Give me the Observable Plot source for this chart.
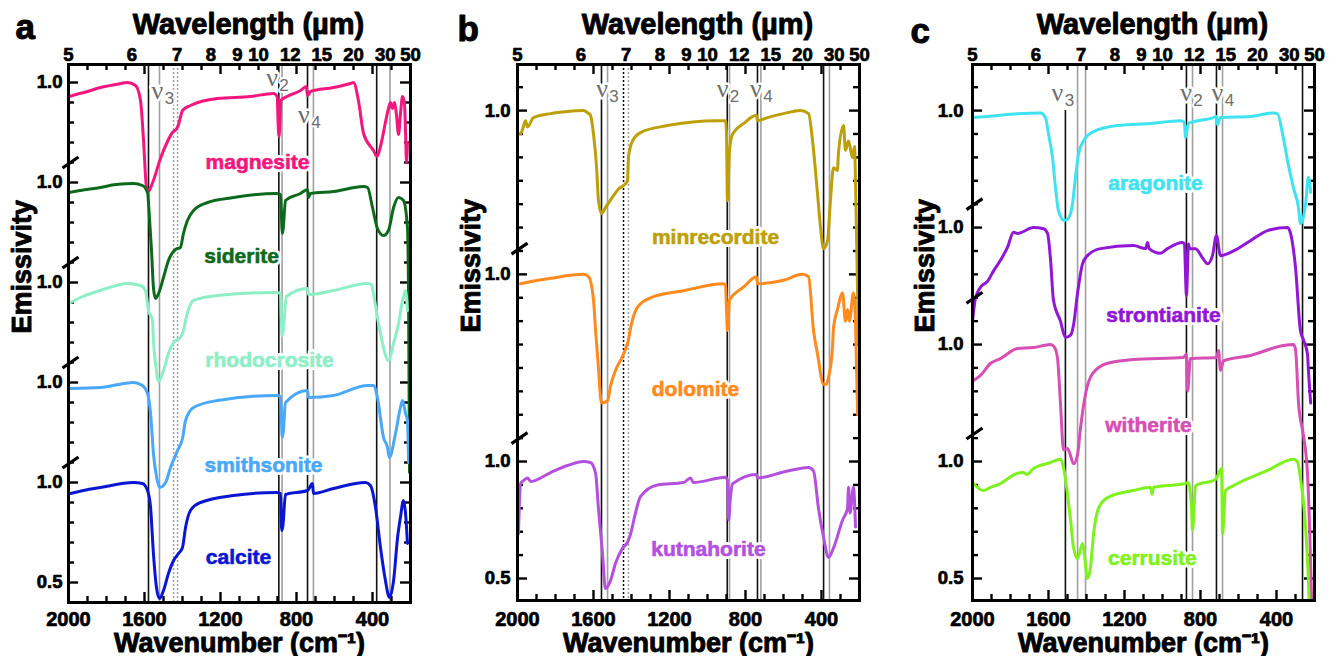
<!DOCTYPE html>
<html><head><meta charset="utf-8">
<script src="https://cdn.jsdelivr.net/npm/d3@7"></script>
<script src="https://cdn.jsdelivr.net/npm/@observablehq/plot@0.6"></script>
<style>
html,body{margin:0;padding:0;background:#fff;}
#row{display:flex;flex-direction:row;width:1337px;height:656px;overflow:hidden;}
#row svg{display:block;flex:none;}
</style>
</head><body><div id="row"></div>
<script>
// ---------- axis tick values ----------
const wnLabels = [2000, 1600, 1200, 800, 400];
const wnMajor = [1600, 1200, 800, 400];
const wnMinor = [1900, 1800, 1700, 1500, 1400, 1300, 1100, 1000, 900, 700, 600, 500, 300];
const wlTicks = [5, 6, 7, 8, 9, 10, 12, 15, 20, 30, 50];

// ---------- panel a spectra [wavenumber, emissivity] ----------
const magnesite = [[1995,0.93],[1960,0.94],[1900,0.955],[1832,0.975],[1750,0.99],[1690,1.0],[1647,0.985],[1621,0.91],[1605,0.71],[1590,0.48],[1579,0.455],[1570,0.47],[1553,0.51],[1516,0.62],[1479,0.705],[1453,0.75],[1430,0.77],[1421,0.79],[1410,0.83],[1400,0.86],[1358,0.885],[1216,0.92],[1042,0.93],[921,0.945],[902,0.93],[896,0.78],[893,0.73],[888,0.78],[882,0.91],[850,0.93],[779,0.96],[748,0.98],[742,0.935],[726,0.955],[605,0.975],[516,0.995],[500,1.0],[474,0.91],[447,0.745],[395,0.66],[376,0.63],[358,0.68],[332,0.8],[316,0.87],[305,0.9],[295,0.87],[284,0.9],[274,0.84],[263,0.74],[253,0.84],[242,0.93],[232,0.9],[226,0.75],[221,0.6],[216,0.7]];
const siderite = [[1995,0.95],[1937,0.96],[1832,0.975],[1750,0.99],[1658,0.995],[1611,0.985],[1584,0.95],[1574,0.825],[1563,0.66],[1553,0.475],[1542,0.42],[1526,0.445],[1500,0.525],[1474,0.61],[1437,0.665],[1411,0.675],[1395,0.745],[1374,0.81],[1342,0.86],[1268,0.9],[1132,0.925],[905,0.945],[884,0.94],[878,0.8],[875,0.745],[870,0.77],[858,0.91],[779,0.945],[742,0.965],[737,0.925],[726,0.945],[605,0.955],[447,0.98],[426,0.975],[400,0.875],[374,0.77],[342,0.735],[316,0.76],[289,0.875],[263,0.925],[237,0.91],[216,0.775],[210,0.4],[205,-0.45]];
const rhodocrosite = [[1989,0.9],[1937,0.925],[1832,0.96],[1689,0.995],[1621,0.985],[1595,0.96],[1579,0.86],[1558,0.81],[1553,0.71],[1540,0.58],[1526,0.505],[1500,0.56],[1474,0.645],[1447,0.7],[1411,0.725],[1395,0.76],[1384,0.81],[1342,0.91],[1216,0.935],[905,0.95],[884,0.945],[879,0.8],[876,0.735],[870,0.76],[853,0.93],[742,0.97],[737,0.94],[605,0.96],[426,0.995],[405,0.99],[395,0.945],[374,0.825],[358,0.745],[316,0.61],[289,0.695],[263,0.795],[242,0.91],[226,0.96],[216,0.86]];
const smithsonite = [[1989,0.97],[1832,0.975],[1658,1.0],[1611,0.985],[1584,0.945],[1568,0.845],[1553,0.645],[1535,0.52],[1521,0.475],[1489,0.5],[1463,0.575],[1426,0.66],[1400,0.72],[1384,0.81],[1342,0.875],[1216,0.91],[905,0.935],[884,0.93],[878,0.78],[876,0.725],[870,0.75],[858,0.9],[742,0.96],[737,0.925],[605,0.935],[426,0.985],[395,0.985],[374,0.925],[342,0.725],[321,0.675],[311,0.625],[279,0.745],[253,0.875],[242,0.91],[226,0.845],[216,0.81],[210,0.6]];
const calcite = [[1989,0.945],[1921,0.96],[1832,0.975],[1658,1.0],[1611,0.995],[1584,0.96],[1568,0.875],[1553,0.645],[1537,0.475],[1521,0.42],[1500,0.46],[1474,0.545],[1447,0.61],[1421,0.645],[1400,0.675],[1384,0.775],[1358,0.86],[1305,0.9],[1132,0.935],[905,0.95],[884,0.945],[880,0.8],[878,0.76],[872,0.78],[858,0.94],[742,0.96],[716,0.995],[711,0.945],[605,0.97],[437,1.0],[411,0.985],[384,0.875],[358,0.675],[332,0.51],[311,0.425],[289,0.51],[268,0.725],[253,0.825],[237,0.91],[226,0.845],[216,0.695]];

// ---------- panel b spectra ----------
const minrecordite = [[1984,0.90],[1973,0.92],[1958,0.957],[1947,0.93],[1916,0.97],[1826,0.987],[1737,0.996],[1653,1.0],[1630,0.99],[1616,0.98],[1600,0.9],[1584,0.76],[1574,0.617],[1558,0.56],[1537,0.585],[1500,0.63],[1468,0.665],[1442,0.68],[1421,0.70],[1416,0.80],[1395,0.87],[1353,0.906],[1211,0.936],[947,0.957],[905,0.957],[900,0.9],[895,0.615],[884,0.83],[868,0.9],[811,0.944],[742,0.98],[737,0.957],[684,0.97],[600,0.987],[511,1.0],[468,0.987],[447,0.87],[421,0.645],[405,0.50],[389,0.41],[368,0.445],[353,0.615],[337,0.756],[316,0.744],[311,0.816],[284,0.936],[274,0.83],[258,0.87],[237,0.80],[226,0.846],[221,0.7],[212,0.3],[205,0.0]];
const dolomite = [[1984,0.96],[1826,0.983],[1653,1.0],[1626,0.99],[1600,0.89],[1589,0.76],[1574,0.6],[1558,0.45],[1526,0.46],[1511,0.52],[1484,0.59],[1447,0.65],[1432,0.68],[1416,0.72],[1405,0.77],[1368,0.86],[1300,0.90],[1126,0.93],[916,0.96],[905,0.955],[900,0.85],[895,0.76],[884,0.89],[811,0.945],[742,0.99],[737,0.96],[600,0.975],[500,1.0],[468,0.99],[442,0.76],[421,0.66],[389,0.53],[374,0.53],[363,0.56],[342,0.69],[337,0.77],[316,0.85],[289,0.92],[274,0.80],[263,0.85],[253,0.80],[232,0.92],[221,0.8],[210,0.4]];
const kutnahorite = [[1995,0.69],[1984,0.905],[1958,0.925],[1947,0.93],[1930,0.915],[1826,0.953],[1737,0.983],[1653,1.0],[1616,0.996],[1589,0.95],[1574,0.80],[1553,0.61],[1537,0.457],[1511,0.49],[1484,0.565],[1447,0.63],[1421,0.655],[1405,0.69],[1379,0.78],[1353,0.85],[1263,0.90],[1126,0.91],[1089,0.93],[1075,0.91],[905,0.933],[895,0.92],[889,0.75],[879,0.85],[868,0.905],[742,0.945],[737,0.93],[600,0.955],[468,0.975],[442,0.96],[416,0.80],[389,0.675],[363,0.59],[337,0.63],[289,0.75],[263,0.80],[258,0.89],[250,0.78],[232,0.89],[221,0.72]];

// ---------- panel c spectra ----------
const aragonite = [[2000,0.97],[1921,0.975],[1763,0.987],[1642,0.99],[1616,0.97],[1600,0.90],[1579,0.80],[1563,0.67],[1547,0.57],[1516,0.53],[1495,0.54],[1474,0.60],[1458,0.715],[1442,0.815],[1416,0.87],[1363,0.91],[1237,0.936],[1063,0.945],[905,0.957],[885,0.95],[879,0.885],[868,0.93],[863,0.945],[732,0.97],[716,0.975],[711,0.94],[695,0.97],[537,0.975],[416,0.99],[395,0.987],[368,0.90],[342,0.786],[311,0.67],[284,0.585],[274,0.517],[258,0.545],[247,0.60],[232,0.715],[220,0.65]];
const strontianite = [[2000,0.60],[1984,0.70],[1958,0.745],[1921,0.77],[1889,0.815],[1853,0.86],[1816,0.915],[1784,0.98],[1763,0.975],[1679,1.0],[1626,0.995],[1605,0.975],[1589,0.86],[1574,0.69],[1537,0.60],[1511,0.53],[1484,0.54],[1468,0.585],[1447,0.72],[1421,0.845],[1395,0.88],[1326,0.91],[1153,0.923],[1089,0.91],[1079,0.936],[1070,0.91],[1011,0.89],[974,0.91],[895,0.936],[885,0.93],[874,0.71],[863,0.93],[858,0.91],[826,0.91],[789,0.87],[763,0.845],[737,0.88],[716,0.966],[695,0.88],[626,0.90],[537,0.944],[447,0.987],[342,1.0],[326,0.975],[300,0.83],[274,0.56],[258,0.52],[237,0.46],[232,0.39],[220,0.25]];
const witherite = [[1995,0.846],[1958,0.868],[1905,0.92],[1853,0.94],[1763,0.983],[1679,0.987],[1589,1.0],[1570,0.99],[1553,0.945],[1537,0.75],[1521,0.55],[1500,0.556],[1490,0.54],[1468,0.49],[1447,0.53],[1432,0.64],[1405,0.79],[1368,0.876],[1289,0.92],[1153,0.936],[889,0.945],[874,0.96],[868,0.80],[853,0.94],[716,0.945],[705,0.975],[695,0.89],[679,0.93],[537,0.953],[363,0.996],[311,1.0],[300,0.98],[284,0.75],[258,0.61],[237,0.45],[225,0.2],[215,-0.1]];
const cerrusite = [[1995,0.906],[1942,0.876],[1905,0.89],[1853,0.906],[1763,0.95],[1732,0.953],[1715,0.945],[1679,0.97],[1589,0.996],[1537,1.01],[1521,0.975],[1500,0.86],[1484,0.75],[1468,0.63],[1447,0.585],[1421,0.65],[1411,0.605],[1395,0.50],[1379,0.547],[1363,0.69],[1337,0.80],[1289,0.846],[1153,0.876],[1063,0.89],[1055,0.86],[1047,0.89],[879,0.906],[865,0.91],[847,0.80],[842,0.705],[826,0.897],[721,0.923],[689,0.97],[684,0.69],[668,0.876],[626,0.897],[447,0.962],[311,1.01],[290,1.0],[274,0.93],[247,0.72],[232,0.49],[220,0.2]];

// ---------- reference lines (wavenumbers) ----------
const aBlack = [1579, 893, 742, 378], aGray = [1521, 876, 711, 308], aDotGray = [1447, 1426], aDotBlack = [];
const bBlack = [1558, 896, 737, 389], bGray = [1526, 884, 719, 358], bDotGray = [1416], bDotBlack = [1442];
const cBlack = [874, 716, 263], cGray = [1447, 1405, 842, 684], cDotGray = [], cDotBlack = [];
const cBlackPartial = [[1511, 2.5]];

// ---------- y labels / breaks ----------
const aYLabels = [0.5, 1.0, 1.5, 2.0, 2.5, 3.0];
const bYLabels = [0.5, 1.0, 1.8, 2.5];
const cYLabels = [0.5, 1.0, 1.5, 2.0, 2.5];
const aBreaks = [2.6, 2.1, 1.6, 1.1];
const bBreaks = [1.91, 1.1];
const cBreaks = [2.1, 1.7, 1.12];

const FONT = "'Liberation Sans', Arial, Helvetica, sans-serif";
const SERIF = "'Liberation Serif', 'Times New Roman', serif";

const panels = [
  {
    letter: "a", width: 445, ml: 68, mr: 35, mt: 64, mb: 54, yDomain: [0.4, 3.09],
    letterPos: [15, 38], emX: 22,
    yTicks: d3.range(5, 31).map(i => i / 10), yLabels: aYLabels, yPad: 6, breaks: aBreaks,
    black: aBlack, gray: aGray, dotGray: aDotGray, dotBlack: aDotBlack, blackPartial: [],
    series: [
      {name: "magnesite", color: "#f2167e", off: 2.0, data: magnesite, at: [1005, 2.6]},
      {name: "siderite", color: "#0d6a1c", off: 1.5, data: siderite, at: [1089, 2.13]},
      {name: "rhodocrosite", color: "#8eeec6", off: 1.0, data: rhodocrosite, at: [942, 1.61]},
      {name: "smithsonite", color: "#4aa8f8", off: 0.5, data: smithsonite, at: [974, 1.085]},
      {name: "calcite", color: "#0b16d2", off: 0.0, data: calcite, at: [1105, 0.625]}
    ],
    nu: [{w: 1503, v: 2.92, s: "3"}, {w: 900, v: 2.985, s: "2"}, {w: 732, v: 2.8, s: "4"}]
  },
  {
    letter: "b", width: 450, ml: 72, mr: 36, mt: 64, mb: 56, yDomain: [0.406, 2.697],
    letterPos: [12, 40], emX: 26,
    yTicks: d3.range(5, 27).map(i => i / 10), yLabels: bYLabels, yPad: 7, breaks: bBreaks,
    black: bBlack, gray: bGray, dotGray: bDotGray, dotBlack: bDotBlack, blackPartial: [],
    series: [
      {name: "minrecordite", color: "#bd9f08", off: 1.5, data: minrecordite, at: [958, 1.96]},
      {name: "dolomite", color: "#ff8a1e", off: 0.8, data: dolomite, at: [1063, 1.31]},
      {name: "kutnahorite", color: "#b451dc", off: 0.0, data: kutnahorite, at: [995, 0.624]}
    ],
    nu: [{w: 1526, v: 2.556, s: "3"}, {w: 892, v: 2.556, s: "2"}, {w: 716, v: 2.556, s: "4"}]
  },
  {
    letter: "c", width: 442, ml: 77, mr: 23, mt: 64, mb: 56, yDomain: [0.406, 2.697],
    letterPos: [15, 42], emX: 30,
    yTicks: d3.range(5, 27).map(i => i / 10), yLabels: cYLabels, yPad: 9, breaks: cBreaks,
    black: cBlack, gray: cGray, dotGray: cDotGray, dotBlack: cDotBlack, blackPartial: cBlackPartial,
    series: [
      {name: "aragonite", color: "#3fe3ef", off: 1.5, data: aragonite, at: [1037, 2.19]},
      {name: "strontianite", color: "#9216d6", off: 1.0, data: strontianite, at: [995, 1.624]},
      {name: "witherite", color: "#d64fb4", off: 0.5, data: witherite, at: [1074, 1.154]},
      {name: "cerrusite", color: "#7ff11e", off: 0.0, data: cerrusite, at: [1053, 0.585]}
    ],
    nu: [{w: 1524, v: 2.543, s: "3"}, {w: 847, v: 2.543, s: "2"}, {w: 682, v: 2.543, s: "4"}]
  }
];

function makePanel(P) {
  const height = 656;
  const frameW = P.width - P.ml - P.mr;
  const frameH = height - P.mt - P.mb;
  const [y0, y1] = P.yDomain;
  const kx = frameW / 1800;
  const ky = frameH / (y1 - y0);
  const minLen = 6, majLen = 10;
  const yMinor = P.yTicks.filter(v => !P.yLabels.some(l => Math.abs(l - v) < 1e-6));
  const tk = {stroke: "black", strokeWidth: 2.4};
  const txt = {fontFamily: FONT, fontWeight: "bold", fill: "black", stroke: "black", strokeWidth: 0.7};
  const marks = [
    Plot.ruleX(P.gray, {stroke: "#a0a0a0", strokeWidth: 1.6}),
    Plot.ruleX(P.dotGray, {stroke: "#a0a0a0", strokeWidth: 1.5, strokeDasharray: "2,2"}),
    Plot.ruleX(P.dotBlack, {stroke: "#000", strokeWidth: 1.5, strokeDasharray: "2,2"}),
    Plot.ruleX(P.black, {stroke: "#111", strokeWidth: 1.6}),
    Plot.ruleX(P.blackPartial, {x: d => d[0], y1: y0, y2: d => d[1], stroke: "#111", strokeWidth: 1.6}),
    // inward frame ticks
    Plot.tickX(wnMinor, {x: d => d, insetTop: frameH - minLen, ...tk}),
    Plot.tickX(wnMinor, {x: d => d, insetBottom: frameH - minLen, ...tk}),
    Plot.tickX(wnMajor, {x: d => d, insetTop: frameH - majLen, ...tk}),
    Plot.tickX(wnMajor, {x: d => d, insetBottom: frameH - majLen, ...tk}),
    Plot.tickY(yMinor, {y: d => d, insetRight: frameW - minLen, ...tk}),
    Plot.tickY(yMinor, {y: d => d, insetLeft: frameW - minLen, ...tk}),
    Plot.tickY(P.yLabels, {y: d => d, insetRight: frameW - majLen, ...tk}),
    Plot.tickY(P.yLabels, {y: d => d, insetLeft: frameW - majLen, ...tk})
  ];
  for (const s of P.series) {
    marks.push(Plot.line(s.data, {x: d => d[0], y: d => d[1] + s.off, stroke: s.color, strokeWidth: 3, strokeLinejoin: "round", curve: "monotone-x", clip: true}));
  }
  marks.push(Plot.frame({stroke: "black", strokeWidth: 3}));
  // mineral names: white halo, then the coloured text slightly emboldened
  const nameOpts = {x: d => d.at[0], y: d => d.at[1], text: d => d.name, fontSize: 21, fontWeight: "bold", fontFamily: FONT, textAnchor: "middle", lineAnchor: "middle"};
  marks.push(Plot.text(P.series, {...nameOpts, fill: "white", stroke: "white", strokeWidth: 6}));
  marks.push(Plot.text(P.series, {...nameOpts, fill: d => d.color, stroke: d => d.color, strokeWidth: 0.6}));
  // nu labels
  marks.push(Plot.text(P.nu, {x: "w", y: "v", text: () => "ν", dx: -5.5, lineAnchor: "bottom",
    fill: "#6e6e6e", stroke: "white", strokeWidth: 5, paintOrder: "stroke",
    fontSize: 26, fontWeight: "normal", fontFamily: SERIF}));
  marks.push(Plot.text(P.nu, {x: "w", y: "v", text: "s", dx: 6.5, dy: 5, lineAnchor: "bottom",
    fill: "#6e6e6e", stroke: "white", strokeWidth: 4, paintOrder: "stroke",
    fontSize: 17, fontWeight: "normal", fontFamily: FONT}));
  // axis breaks
  marks.push(Plot.link(P.breaks, {x1: 2000 + 6 / kx, x2: 2000 - 10 / kx, y1: d => d - 5.5 / ky, y2: d => d + 5.5 / ky, stroke: "black", strokeWidth: 3.2}));
  // tick labels (positioned by the scales)
  marks.push(Plot.text(wnLabels, {x: d => d, text: d => String(d), frameAnchor: "bottom", dy: 625 - (height - P.mb), lineAnchor: "bottom", fontSize: 20, ...txt}));
  marks.push(Plot.text(wlTicks, {x: l => 1e4 / l, text: l => String(l), frameAnchor: "top", dy: -4, lineAnchor: "bottom", fontSize: 18.5, ...txt}));
  marks.push(Plot.text(P.yLabels, {y: d => d, text: d => (d < 0.75 ? "0.5" : "1.0"), frameAnchor: "left", dx: -P.yPad, textAnchor: "end", lineAnchor: "middle", fontSize: 18.5, ...txt}));
  // titles
  marks.push(Plot.text(["Wavelength (µm)"], {frameAnchor: "top", dx: 9, dy: 33 - P.mt, lineAnchor: "bottom", fontSize: 29, ...txt, strokeWidth: 0.9}));
  marks.push(Plot.text(["Wavenumber (cm⁻¹)"], {frameAnchor: "bottom", dy: 651 - (height - P.mb), lineAnchor: "bottom", fontSize: 27, ...txt, strokeWidth: 0.9}));
  marks.push(Plot.text(["Emissivity"], {frameAnchor: "left", dx: P.emX - P.ml, rotate: -90, lineAnchor: "middle", fontSize: 27, ...txt, strokeWidth: 0.9}));
  marks.push(Plot.text([P.letter], {frameAnchor: "top-left", dx: P.letterPos[0] - P.ml, dy: P.letterPos[1] - P.mt, textAnchor: "start", lineAnchor: "bottom", fontSize: 35, ...txt, strokeWidth: 1}));

  return Plot.plot({
    width: P.width, height,
    marginLeft: P.ml, marginRight: P.mr, marginTop: P.mt, marginBottom: P.mb,
    x: {domain: [2000, 200], axis: null},
    y: {domain: P.yDomain, axis: null},
    style: {fontFamily: FONT, fontSize: "18px", color: "black", background: "white", overflow: "visible"},
    marks
  });
}

const row = document.getElementById("row");
for (const P of panels) row.appendChild(makePanel(P));
</script>
</body></html>
